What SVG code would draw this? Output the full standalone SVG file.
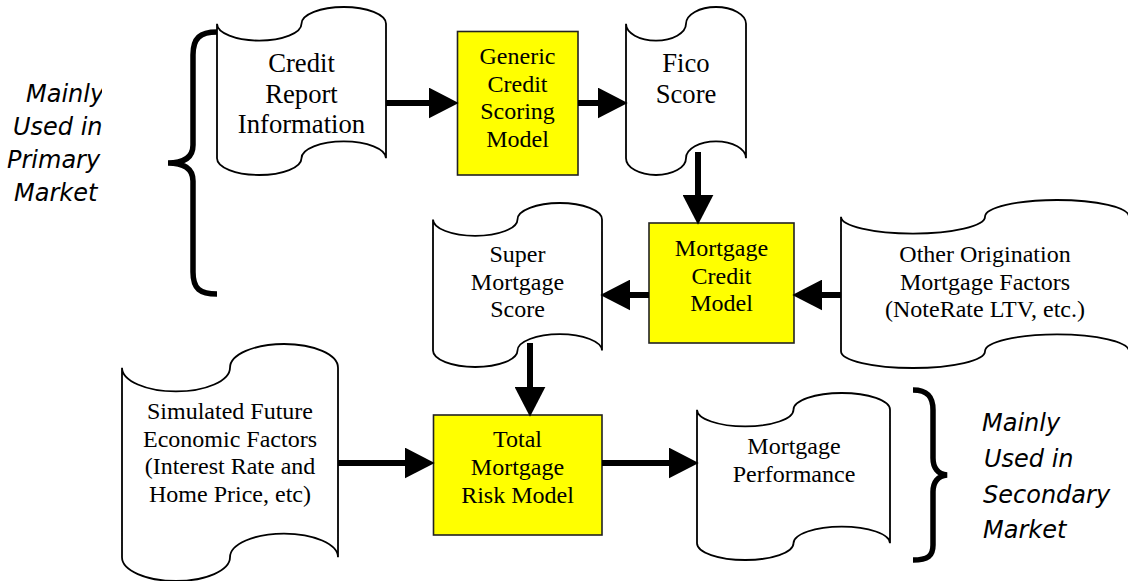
<svg xmlns="http://www.w3.org/2000/svg" width="1128" height="581" viewBox="0 0 1128 581">
<style>
.tape{fill:#fff;stroke:#000;stroke-width:1.8}
.box{fill:#ffff00;stroke:#222;stroke-width:1.6}
.t{font-family:"Liberation Serif","Times New Roman",serif;font-size:24px;fill:#000;text-anchor:middle}
.tl{font-size:26.67px}
.hand{font-family:"DejaVu Sans",sans-serif;font-style:italic;font-size:24px;fill:#000}
.conn{stroke:#000;stroke-width:6;fill:none;marker-end:url(#ah)}
.brace{stroke:#000;stroke-width:5.5;fill:none;stroke-linecap:butt}
</style>
<defs>
<marker id="ah" markerUnits="userSpaceOnUse" markerWidth="30" markerHeight="31" refX="8" refY="15" orient="auto" viewBox="0 0 29 30">
<path d="M0,0 L29,15 L0,30 Z" fill="#000"/>
</marker>
<clipPath id="clipL"><rect x="0" y="0" width="102" height="581"/></clipPath>
</defs>
<rect width="1128" height="581" fill="#fff"/>

<g id="label-primary" clip-path="url(#clipL)">
<text class="hand" x="26" y="102">Mainly</text>
<text class="hand" x="13" y="135">Used in</text>
<text class="hand" x="7" y="168">Primary</text>
<text class="hand" x="14" y="201">Market</text>
</g>
<g id="brace-primary"><path class="brace" d="M217,32 C200,32 193,38 193,55 L193,145 C193,157 185,163 168,163 C185,163 193,169 193,181 L193,272 C193,289 200,294 217,294"/></g>

<g id="credit-report">
<path class="tape" d="M217,23.8 A42.25,16.8 0 0 0 301.5,23.8 A42.25,16.8 0 0 1 386,23.8 L386,158.2 A42.25,16.8 0 0 0 301.5,158.2 A42.25,16.8 0 0 1 217,158.2 Z"/>
<text class="t tl" x="301.5" y="72">Credit</text>
<text class="t tl" x="301.5" y="102.5">Report</text>
<text class="t tl" x="301.5" y="133">Information</text>
</g>

<g id="generic-model">
<rect class="box" x="457.5" y="31.5" width="120.5" height="143.5"/>
<text class="t" x="517.5" y="64">Generic</text>
<text class="t" x="517.5" y="91.5">Credit</text>
<text class="t" x="517.5" y="119">Scoring</text>
<text class="t" x="517.5" y="146.5">Model</text>
</g>

<g id="fico">
<path class="tape" d="M626,23.8 A30,16.8 0 0 0 686,23.8 A30,16.8 0 0 1 746,23.8 L746,158.2 A30,16.8 0 0 0 686,158.2 A30,16.8 0 0 1 626,158.2 Z"/>
<text class="t tl" x="686" y="72">Fico</text>
<text class="t tl" x="686" y="102.5">Score</text>
</g>

<g id="mortgage-credit">
<rect class="box" x="649" y="223" width="145" height="120"/>
<text class="t" x="721.5" y="256">Mortgage</text>
<text class="t" x="721.5" y="283.5">Credit</text>
<text class="t" x="721.5" y="311">Model</text>
</g>

<g id="super-score">
<path class="tape" d="M433,219.4 A42.25,16.4 0 0 0 517.5,219.4 A42.25,16.4 0 0 1 602,219.4 L602,350.6 A42.25,16.4 0 0 0 517.5,350.6 A42.25,16.4 0 0 1 433,350.6 Z"/>
<text class="t" x="517.5" y="262">Super</text>
<text class="t" x="517.5" y="289.5">Mortgage</text>
<text class="t" x="517.5" y="317">Score</text>
</g>

<g id="other-factors">
<path class="tape" d="M841,216.8 A72,16.8 0 0 0 985,216.8 A72,16.8 0 0 1 1129,216.8 L1129,351.2 A72,16.8 0 0 0 985,351.2 A72,16.8 0 0 1 841,351.2 Z"/>
<text class="t" x="985" y="262">Other Origination</text>
<text class="t" x="985" y="289.5">Mortgage Factors</text>
<text class="t" x="985" y="317">(NoteRate LTV, etc.)</text>
</g>

<g id="simulated">
<path class="tape" d="M122,367.7 A54,23.7 0 0 0 230,367.7 A54,23.7 0 0 1 338,367.7 L338,557.3 A54,23.7 0 0 0 230,557.3 A54,23.7 0 0 1 122,557.3 Z"/>
<text class="t" x="230" y="419">Simulated Future</text>
<text class="t" x="230" y="446.5">Economic Factors</text>
<text class="t" x="230" y="474">(Interest Rate and</text>
<text class="t" x="230" y="501.5">Home Price, etc)</text>
</g>

<g id="total-model">
<rect class="box" x="433.5" y="415" width="168.5" height="120"/>
<text class="t" x="517.5" y="447">Total</text>
<text class="t" x="517.5" y="475">Mortgage</text>
<text class="t" x="517.5" y="503">Risk Model</text>
</g>

<g id="performance">
<path class="tape" d="M697,409.7 A48.25,16.7 0 0 0 793.5,409.7 A48.25,16.7 0 0 1 890,409.7 L890,543.3 A48.25,16.7 0 0 0 793.5,543.3 A48.25,16.7 0 0 1 697,543.3 Z"/>
<text class="t" x="794" y="454">Mortgage</text>
<text class="t" x="794" y="482">Performance</text>
</g>

<g id="brace-secondary"><path class="brace" d="M913,390 C928,390 933,397 933,410 L933,458 C933,468 938,474 947,475 C938,476 933,482 933,492 L933,545 C933,556 928,560 913,560"/></g>
<g id="label-secondary">
<text class="hand" x="982" y="431">Mainly</text>
<text class="hand" x="984" y="467">Used in</text>
<text class="hand" x="983" y="503">Secondary</text>
<text class="hand" x="983" y="538">Market</text>
</g>

<g id="connectors">
<line class="conn" x1="386" y1="103" x2="437" y2="103"/>
<line class="conn" x1="578" y1="103" x2="606" y2="103"/>
<line class="conn" x1="698" y1="152" x2="698" y2="203"/>
<line class="conn" x1="649" y1="295" x2="622" y2="295"/>
<line class="conn" x1="841" y1="295" x2="814" y2="295"/>
<line class="conn" x1="530" y1="343" x2="530" y2="395"/>
<line class="conn" x1="338" y1="463" x2="413" y2="463"/>
<line class="conn" x1="602" y1="463" x2="677" y2="463"/>
</g>
</svg>
